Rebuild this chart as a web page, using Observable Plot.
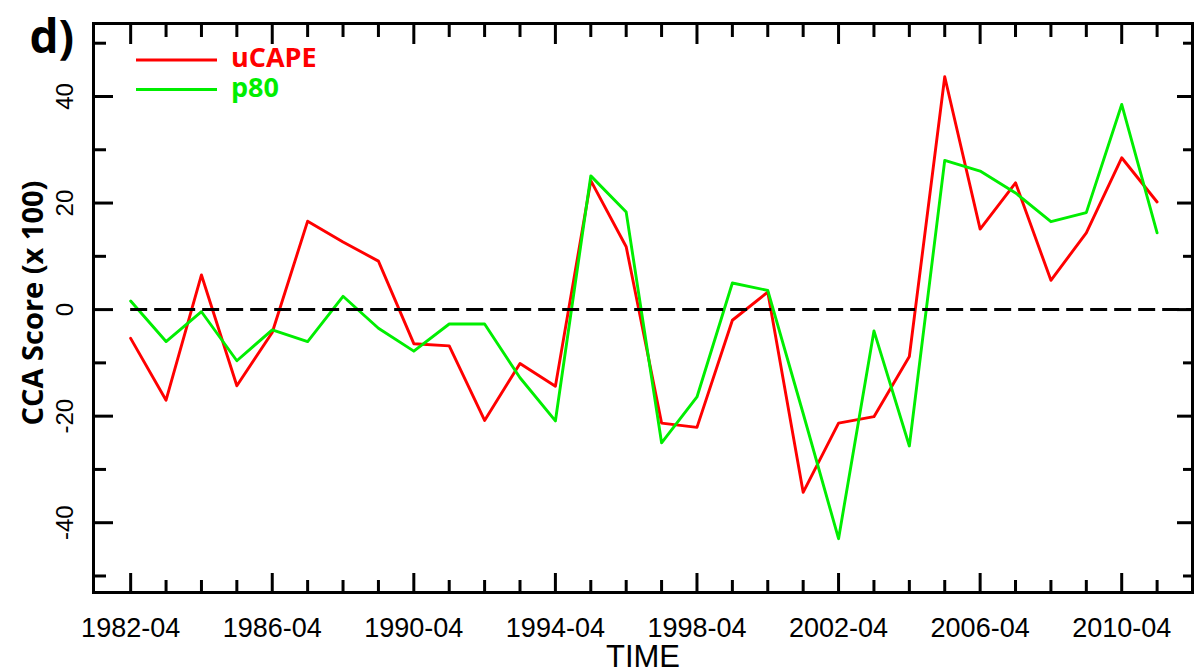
<!DOCTYPE html>
<html>
<head>
<meta charset="utf-8">
<script src="https://cdn.jsdelivr.net/npm/d3@7"></script>
<script src="https://cdn.jsdelivr.net/npm/@observablehq/plot@0.6"></script>
<style>
html, body { margin: 0; padding: 0; background: #fff; }
#chart { width: 1194px; height: 669px; overflow: hidden; }
</style>
</head>
<body>
<div id="chart"></div>
<script>
// ---- Data ----
const years = [1982, 1983, 1984, 1985, 1986, 1987, 1988, 1989, 1990, 1991,
               1992, 1993, 1994, 1995, 1996, 1997, 1998, 1999, 2000, 2001,
               2002, 2003, 2004, 2005, 2006, 2007, 2008, 2009, 2010, 2011];
const ucape = [-5.4, -17.0, 6.5, -14.3, -4.3, 16.6, 12.7, 9.1, -6.4, -6.8,
               -20.8, -10.1, -14.4, 24.2, 11.8, -21.3, -22.1, -2.0, 3.3, -34.3,
               -21.3, -20.1, -8.8, 43.7, 15.1, 23.8, 5.5, 14.4, 28.5, 20.2];
const p80 = [1.6, -6.0, -0.4, -9.6, -3.8, -6.0, 2.5, -3.5, -7.8, -2.7,
             -2.7, -12.8, -20.9, 25.1, 18.3, -25.0, -16.4, 5.0, 3.6, -19.5,
             -43.0, -4.0, -25.6, 28.0, 26.0, 21.9, 16.5, 18.2, 38.5, 14.4];
const seriesNames = ["uCAPE", "p80"];
const seriesColors = ["#ff0000", "#00ee00"];
const labeledYears = [1982, 1986, 1990, 1994, 1998, 2002, 2006, 2010];
const yMajorTicks = [-40, -20, 0, 20, 40];
const yMinorTicks = [-50, -30, -10, 10, 30, 50];
const xDomain = [1980.95, 2012];
const yDomain = [-53.1, 53.7];

const seriesValues = [ucape, p80];
const data = seriesNames.flatMap((name, s) =>
  years.map((year, i) => ({year, value: seriesValues[s][i], series: name})));
const minorYears = years.filter(y => !labeledYears.includes(y));

const sans = "'Liberation Sans', Arial, sans-serif";
const bold = "'Open Sans', 'Noto Sans', sans-serif";

const tickOpts = {fill: "none", stroke: "black", strokeWidth: 3, label: null};

const chart = Plot.plot({
  width: 1194,
  height: 669,
  marginLeft: 93,
  marginRight: 2,
  marginTop: 23,
  marginBottom: 77,
  x: {domain: xDomain, label: null},
  y: {domain: yDomain, label: null},
  color: {domain: seriesNames, range: seriesColors},
  style: {fontFamily: sans, background: "white", color: "black"},
  marks: [
    Plot.line(data, {x: "year", y: "value", z: "series", stroke: "series", strokeWidth: 2.9}),
    Plot.ruleY([0], {x1: years[0], x2: xDomain[1], stroke: "black", strokeWidth: 3, strokeDasharray: "17,7"}),
    // inward ticks, all four sides
    Plot.axisX({anchor: "bottom", ticks: labeledYears, tickSize: -19, ...tickOpts}),
    Plot.axisX({anchor: "bottom", ticks: minorYears, tickSize: -12, ...tickOpts}),
    Plot.axisX({anchor: "top", ticks: labeledYears, tickSize: -20, ...tickOpts}),
    Plot.axisX({anchor: "top", ticks: minorYears, tickSize: -13, ...tickOpts}),
    Plot.axisY({anchor: "left", ticks: yMajorTicks, tickSize: -20, ...tickOpts}),
    Plot.axisY({anchor: "left", ticks: yMinorTicks, tickSize: -13, ...tickOpts}),
    Plot.axisY({anchor: "right", ticks: yMajorTicks, tickSize: -16, ...tickOpts}),
    Plot.axisY({anchor: "right", ticks: yMinorTicks, tickSize: -10, ...tickOpts}),
    // tick labels
    Plot.axisX({anchor: "bottom", ticks: labeledYears, tickSize: 0, tickPadding: 25,
      tickFormat: d => `${d}-04`, fontSize: 27, fill: "black", label: null,
      ariaLabel: "x-labels"}),
    Plot.axisY({anchor: "left", ticks: yMajorTicks, tickSize: 0, tickPadding: 21,
      tickRotate: -90, tickFormat: d => String(d), fontSize: 24, fill: "black", label: null,
      ariaLabel: "y-labels"}),
    Plot.frame({stroke: "black", strokeWidth: 3}),
    // titles
    Plot.text(["CCA Score (x 100)"], {frameAnchor: "left", text: d => d, rotate: -90,
      dx: -71, dy: -5, lineAnchor: "top", textAnchor: "middle",
      fontSize: 29, fontWeight: "bold", fontFamily: bold, fill: "black"}),
    Plot.text(["TIME"], {frameAnchor: "bottom", text: d => d, dy: 74, lineAnchor: "bottom",
      textAnchor: "middle", fontSize: 31, fill: "black", ariaLabel: "time-label"}),
    Plot.text(["d)"], {frameAnchor: "top-left", text: d => d, dx: -64, dy: 29,
      lineAnchor: "bottom", textAnchor: "start", fontSize: 46, fontWeight: "bold",
      fontFamily: bold, fill: "black"})
  ]
});

// narrow (condensed) look of the reference's Helvetica-like labels
const svg = d3.select(chart);
function condense(sel, sx, sy) {
  sel.each(function() {
    const t = this.getAttribute("transform") || "";
    this.setAttribute("transform", `${t} scale(${sx},${sy})`);
  });
}
condense(svg.selectAll("g[aria-label='x-labels'] text"), 0.84, 1.12);
condense(svg.selectAll("g[aria-label='y-labels'] text"), 0.84, 1.0);
condense(svg.selectAll("g[aria-label='time-label'] text"), 0.9, 1.05);

// legend inside the plot area (top-left)
const lg = svg.append("g").attr("text-anchor", "start");
seriesNames.forEach((name, i) => {
  const ly = 60 + i * 29.5;
  lg.append("line").attr("x1", 136).attr("x2", 217).attr("y1", ly).attr("y2", ly)
    .attr("stroke", seriesColors[i]).attr("stroke-width", 3);
  lg.append("text").attr("x", 231).attr("y", ly + 7).text(name)
    .attr("fill", seriesColors[i]).attr("font-family", bold)
    .attr("font-weight", "bold").attr("font-size", 27);
});

document.getElementById("chart").appendChild(chart);
</script>
</body>
</html>
